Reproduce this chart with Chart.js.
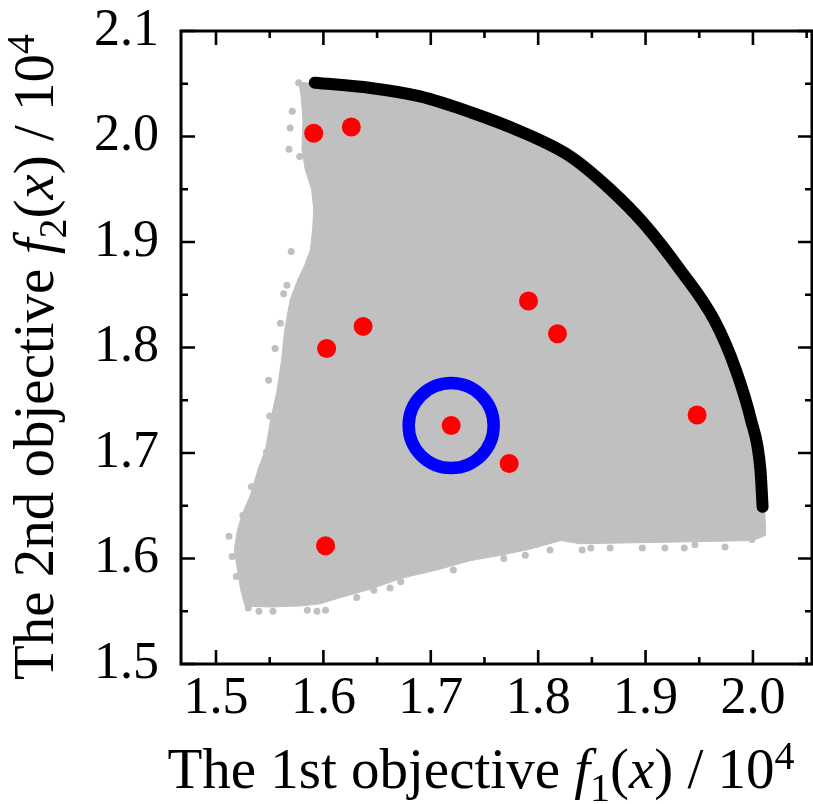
<!DOCTYPE html>
<html>
<head>
<meta charset="utf-8">
<script src="https://cdn.jsdelivr.net/npm/chart.js@4.4.1/dist/chart.umd.min.js"></script>
<style>
  html, body { margin: 0; padding: 0; background: #fff; }
  #objective-chart { display: block; }
</style>
</head>
<body>
<canvas id="objective-chart" width="813" height="804"></canvas>
<script>
const xTicks = [1.5, 1.6, 1.7, 1.8, 1.9, 2.0];
const yTicks = [1.5, 1.6, 1.7, 1.8, 1.9, 2.0, 2.1];
const xMinorTicks = [1.55, 1.65, 1.75, 1.85, 1.95, 2.05];
const yMinorTicks = [1.55, 1.65, 1.75, 1.85, 1.95, 2.05];

// Pareto front (black curve)
const frontX = [1.592, 1.644, 1.690, 1.737, 1.783, 1.830, 1.867, 1.898, 1.932, 1.964, 1.984, 1.998, 2.007, 2.009];
const frontY = [2.051, 2.046, 2.038, 2.023, 2.005, 1.981, 1.950, 1.918, 1.874, 1.826, 1.779, 1.732, 1.684, 1.649];

// rest of the grey cloud outline, from the end of the front round to the top left
const cloudEdgeX = [2.011, 2.012, 2.000, 1.951, 1.895, 1.839, 1.821, 1.793, 1.765, 1.737, 1.709, 1.672, 1.644, 1.616,
  1.597, 1.578, 1.550, 1.527, 1.523, 1.520, 1.517, 1.520, 1.524, 1.532, 1.539, 1.546, 1.551, 1.557, 1.561, 1.564,
  1.569, 1.576, 1.583, 1.588, 1.590, 1.591, 1.589, 1.583, 1.580, 1.581, 1.579, 1.577];
const cloudEdgeY = [1.644, 1.622, 1.617, 1.616, 1.615, 1.614, 1.617, 1.609, 1.603, 1.598, 1.590, 1.581, 1.571, 1.563,
  1.557, 1.555, 1.554, 1.555, 1.570, 1.589, 1.608, 1.627, 1.641, 1.660, 1.684, 1.703, 1.732, 1.760, 1.788, 1.817,
  1.845, 1.864, 1.879, 1.893, 1.912, 1.931, 1.950, 1.969, 1.988, 2.016, 2.040, 2.052];

// loose grey samples outside the dense part of the cloud
const strayX = [1.577, 1.571, 1.569, 1.568, 1.578, 1.570, 1.566, 1.563, 1.560, 1.555, 1.549, 1.550, 1.547, 1.533,
  1.525, 1.512, 1.515, 1.519, 1.530, 1.540, 1.553, 1.585, 1.594, 1.602, 1.631, 1.647, 1.662, 1.672, 1.693, 1.721,
  1.768, 1.788, 1.811, 1.841, 1.849, 1.867, 1.897, 1.918, 1.936, 1.946, 1.974, 1.999];
const strayY = [2.051, 2.024, 2.008, 1.988, 1.981, 1.891, 1.859, 1.851, 1.823, 1.799, 1.769, 1.735, 1.701, 1.668,
  1.641, 1.621, 1.602, 1.583, 1.553, 1.550, 1.550, 1.551, 1.550, 1.551, 1.563, 1.570, 1.572, 1.578, 1.589, 1.589,
  1.600, 1.603, 1.608, 1.608, 1.610, 1.610, 1.610, 1.610, 1.610, 1.613, 1.611, 1.618];

// red solutions
const solutionX = [1.591, 1.626, 1.637, 1.603, 1.719, 1.791, 1.818, 1.948, 1.773, 1.602];
const solutionY = [2.003, 2.009, 1.820, 1.799, 1.726, 1.844, 1.813, 1.736, 1.690, 1.612];

// circled solution
const chosenX = [1.719];
const chosenY = [1.726];

const toPoints = (xs, ys) => xs.map((x, i) => ({ x, y: ys[i] }));

const serif = '"Liberation Serif", "Times New Roman", serif';

const xTitle = [
  { text: "The 1st objective " },
  { text: "f", italic: true },
  { text: "1", sub: true },
  { text: "(" },
  { text: "x", italic: true },
  { text: ") / 10" },
  { text: "4", sup: true },
];
const yTitle = [
  { text: "The 2nd objective " },
  { text: "f", italic: true },
  { text: "2", sub: true },
  { text: "(" },
  { text: "x", italic: true },
  { text: ") / 10" },
  { text: "4", sup: true },
];

const partFont = (part) => {
  if (part.sub || part.sup) return `40px ${serif}`;
  return `${part.italic ? "italic " : ""}57px ${serif}`;
};

const drawParts = (ctx, parts, cx, baseline) => {
  let total = 0;
  parts.forEach((part) => {
    ctx.font = partFont(part);
    total += ctx.measureText(part.text).width;
  });
  let x = cx - total / 2;
  parts.forEach((part) => {
    ctx.font = partFont(part);
    const shift = part.sub ? 13 : part.sup ? -19 : 0;
    ctx.fillText(part.text, x, baseline + shift);
    x += ctx.measureText(part.text).width;
  });
};

const axisTitles = {
  id: "axisTitles",
  afterDraw(chart) {
    const { ctx } = chart;
    ctx.save();
    ctx.fillStyle = "#000";
    ctx.textAlign = "left";
    ctx.textBaseline = "alphabetic";
    drawParts(ctx, xTitle, 481, 788);
    ctx.translate(53, 357);
    ctx.rotate(-Math.PI / 2);
    drawParts(ctx, yTitle, 0, 0);
    ctx.restore();
  },
};

const frameTicks = {
  id: "frameTicks",
  afterDatasetsDraw(chart) {
    const { ctx, chartArea: area, scales } = chart;
    ctx.save();
    ctx.strokeStyle = "#000";
    ctx.lineWidth = 2.6;
    ctx.beginPath();
    const xMark = (values, len) => {
      values.forEach((v) => {
        const px = scales.x.getPixelForValue(v);
        ctx.moveTo(px, area.bottom);
        ctx.lineTo(px, area.bottom - len);
        ctx.moveTo(px, area.top);
        ctx.lineTo(px, area.top + len);
      });
    };
    const yMark = (values, len) => {
      values.forEach((v) => {
        const py = scales.y.getPixelForValue(v);
        ctx.moveTo(area.left, py);
        ctx.lineTo(area.left + len, py);
        ctx.moveTo(area.right, py);
        ctx.lineTo(area.right - len, py);
      });
    };
    xMark(xTicks, 14);
    xMark(xMinorTicks, 7);
    yMark(yTicks, 14);
    yMark(yMinorTicks, 7);
    ctx.stroke();
    ctx.lineWidth = 3;
    ctx.strokeRect(area.left, area.top, area.right - area.left, area.bottom - area.top);
    ctx.restore();
  },
};

const noPadding = (scale) => {
  scale.paddingLeft = 0;
  scale.paddingRight = 0;
  scale.paddingTop = 0;
  scale.paddingBottom = 0;
};

const cloud = toPoints(frontX, frontY).concat(toPoints(cloudEdgeX, cloudEdgeY));

new Chart(document.getElementById("objective-chart"), {
  type: "scatter",
  data: {
    datasets: [
      {
        label: "Chosen",
        data: toPoints(chosenX, chosenY),
        pointRadius: 42.5,
        pointBorderWidth: 12.5,
        pointBorderColor: "#0000ff",
        pointBackgroundColor: "rgba(0, 0, 0, 0)",
      },
      {
        label: "Solutions",
        data: toPoints(solutionX, solutionY),
        pointRadius: 9.5,
        pointBorderWidth: 0,
        pointBackgroundColor: "#ff0000",
      },
      {
        label: "Pareto front",
        data: toPoints(frontX, frontY),
        showLine: true,
        borderColor: "#000000",
        borderWidth: 12,
        borderCapStyle: "round",
        cubicInterpolationMode: "monotone",
        pointRadius: 0,
      },
      {
        label: "Stray samples",
        data: toPoints(strayX, strayY),
        pointRadius: 3.5,
        pointBorderWidth: 0,
        pointBackgroundColor: "#c0c0c0",
      },
      {
        label: "Samples",
        data: cloud,
        showLine: true,
        fill: "shape",
        backgroundColor: "#c0c0c0",
        borderColor: "#c0c0c0",
        borderWidth: 1,
        tension: 0,
        pointRadius: 0,
      },
    ],
  },
  options: {
    responsive: false,
    animation: false,
    devicePixelRatio: 1,
    layout: {
      autoPadding: false,
      padding: { top: 31, right: 1, left: 0, bottom: 0 },
    },
    plugins: {
      legend: { display: false },
      tooltip: { enabled: false },
    },
    scales: {
      x: {
        type: "linear",
        min: 1.4674,
        max: 2.055,
        grid: { display: false, drawTicks: false },
        border: { display: false },
        afterBuildTicks: (scale) => {
          scale.ticks = xTicks.map((value) => ({ value }));
        },
        afterFit: (scale) => {
          scale.height = 140;
          noPadding(scale);
        },
        ticks: {
          padding: 4,
          color: "#000",
          font: { family: serif, size: 52 },
          callback: (value) => value.toFixed(1),
        },
      },
      y: {
        type: "linear",
        min: 1.5,
        max: 2.1,
        grid: { display: false, drawTicks: false },
        border: { display: false },
        afterBuildTicks: (scale) => {
          scale.ticks = yTicks.map((value) => ({ value }));
        },
        afterFit: (scale) => {
          scale.width = 181;
          noPadding(scale);
        },
        ticks: {
          padding: 22,
          color: "#000",
          font: { family: serif, size: 52 },
          callback: (value) => value.toFixed(1),
        },
      },
    },
  },
  plugins: [frameTicks, axisTitles],
});
</script>
</body>
</html>
